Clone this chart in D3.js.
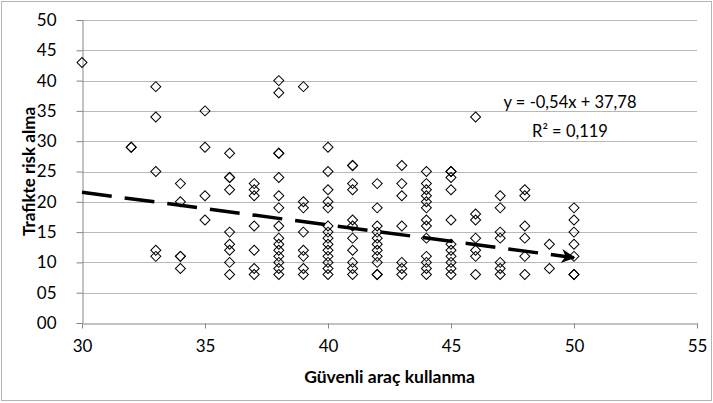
<!DOCTYPE html>
<html>
<head>
<meta charset="utf-8">
<script src="https://cdn.jsdelivr.net/npm/d3@7"></script>
<style>
  body { margin: 0; background: #fff; }
  svg text { font-family: Lato, "Open Sans", sans-serif; fill: #000; }
</style>
</head>
<body>
<svg id="chart"></svg>
<script>
// scatter: Güvenli araç kullanma (x) vs Trafikte risk alma (y)
const xCols = [30, 32, 33, 34, 35, 36, 37, 38, 39, 40, 41, 42, 43, 44, 45, 46, 47, 48, 49, 50];
const yCols = [
    [43],
    [29, 29],
    [39, 34, 25, 12, 11],
    [23, 20, 11, 11, 9],
    [35, 29, 21, 17],
    [28, 24, 24, 22, 15, 13, 12, 10, 8],
    [23, 22, 21, 16, 12, 9, 8],
    [40, 38, 28, 28, 24, 21, 19, 16, 14, 13, 12, 11, 10, 9, 8],
    [39, 20, 19, 15, 12, 11, 9, 8],
    [29, 25, 22, 20, 19, 16, 15, 14, 13, 12, 11, 10, 9, 8],
    [26, 26, 23, 22, 17, 16, 14, 12, 10, 9, 8],
    [23, 19, 16, 15, 14, 13, 12, 11, 10, 8, 8],
    [26, 23, 21, 16, 10, 9, 8],
    [25, 23, 22, 21, 20, 19, 17, 16, 14, 11, 10, 9, 8],
    [25, 25, 24, 22, 17, 13, 12, 11, 10, 9, 8],
    [34, 18, 17, 14, 12, 11, 8],
    [21, 19, 15, 14, 10, 9, 8],
    [22, 21, 16, 14, 11, 8],
    [13, 9],
    [19, 17, 15, 13, 11, 8, 8]
];
const xTicks = [30, 35, 40, 45, 50, 55];
const yTicks = [0, 5, 10, 15, 20, 25, 30, 35, 40, 45, 50];
const trendSlope = -0.54;
const trendIntercept = 37.78;
const trendRange = [30, 50];
const eqLines = ["y = -0,54x + 37,78", "R² = 0,119"];
const xTitle = "Güvenli araç kullanma";
const yTitle = "Trafikte risk alma";

const width = 713, height = 403;
const margin = {left: 82, right: 16, top: 20, bottom: 80};

const svg = d3.select('svg#chart')
    .attr('width', width)
    .attr('height', height);

// chart border
svg.append('rect')
    .attr('x', 1.5).attr('y', 1.5)
    .attr('width', width - 3).attr('height', height - 4)
    .attr('fill', 'none')
    .attr('stroke', '#b4b4b4');

const x = d3.scaleLinear().domain([30, 55]).range([margin.left, width - margin.right]);
const y = d3.scaleLinear().domain([0, 50]).range([height - margin.bottom, margin.top]);

// gridlines
svg.append('g')
    .selectAll('line')
    .data(yTicks.filter(d => d > 0))
    .enter().append('line')
    .attr('x1', x(30)).attr('x2', x(55))
    .attr('y1', d => Math.round(y(d)) + 0.5)
    .attr('y2', d => Math.round(y(d)) + 0.5)
    .attr('stroke', '#b8b8b8')
    .attr('stroke-width', 1.2);

// axes
const xAxis = svg.append('g')
    .attr('transform', `translate(0,${Math.round(y(0)) + 0.5})`)
    .call(d3.axisBottom(x).tickValues(xTicks).tickSize(5).tickSizeOuter(0).tickPadding(11));
const yAxis = svg.append('g')
    .attr('transform', `translate(${Math.round(x(30)) + 0.5},0)`)
    .call(d3.axisLeft(y).tickValues(yTicks).tickFormat(d3.format('02d')).tickSize(6).tickSizeOuter(0).tickPadding(20));

[xAxis, yAxis].forEach(a => {
    a.select('.domain').attr('stroke', '#868686');
    a.selectAll('.tick line').attr('stroke', '#868686');
    a.selectAll('.tick text').attr('font-size', 17).attr('font-family', 'Lato, sans-serif');
});

// points
const points = [];
xCols.forEach((xv, i) => {
    yCols[i].forEach(yv => points.push({x: xv, y: yv}));
});

const diamond = d3.symbol().type(d3.symbolSquare).size(50);
svg.append('g')
    .selectAll('path')
    .data(points)
    .enter().append('path')
    .attr('d', diamond)
    .attr('transform', d => `translate(${x(d.x)},${y(d.y)}) rotate(45)`)
    .attr('fill', 'none')
    .attr('stroke', '#000')
    .attr('stroke-width', 1);

// trendline with arrow
svg.append('defs').append('marker')
    .attr('id', 'arrow')
    .attr('viewBox', '0 0 10 10')
    .attr('refX', 9).attr('refY', 5)
    .attr('markerWidth', 5).attr('markerHeight', 4)
    .attr('markerUnits', 'strokeWidth')
    .attr('orient', 'auto')
    .append('path')
    .attr('d', 'M0,0 L10,5 L0,10 L3,5 Z')
    .attr('fill', '#000');

const trend = trendRange.map(v => ({x: v, y: trendSlope * v + trendIntercept}));
svg.append('path')
    .datum(trend)
    .attr('d', d3.line().x(d => x(d.x)).y(d => y(d.y)))
    .attr('fill', 'none')
    .attr('stroke', '#000')
    .attr('stroke-width', 3.5)
    .attr('stroke-dasharray', '30,13')
    .attr('marker-end', 'url(#arrow)');

// equation label
svg.append('g')
    .selectAll('text')
    .data(eqLines)
    .enter().append('text')
    .attr('x', 570)
    .attr('y', (d, i) => 108 + i * 29)
    .attr('text-anchor', 'middle')
    .attr('font-size', 16.5)
    .text(d => d);

// axis titles
svg.append('text')
    .attr('x', (x(30) + x(55)) / 2)
    .attr('y', 383)
    .attr('text-anchor', 'middle')
    .attr('font-size', 17.5)
    .attr('font-weight', 'bold')
    .text(xTitle);

svg.append('text')
    .attr('transform', `translate(35,${(y(0) + y(50)) / 2}) rotate(-90)`)
    .attr('text-anchor', 'middle')
    .attr('font-size', 17)
    .attr('font-weight', 'bold')
    .text(yTitle);
</script>
</body>
</html>
